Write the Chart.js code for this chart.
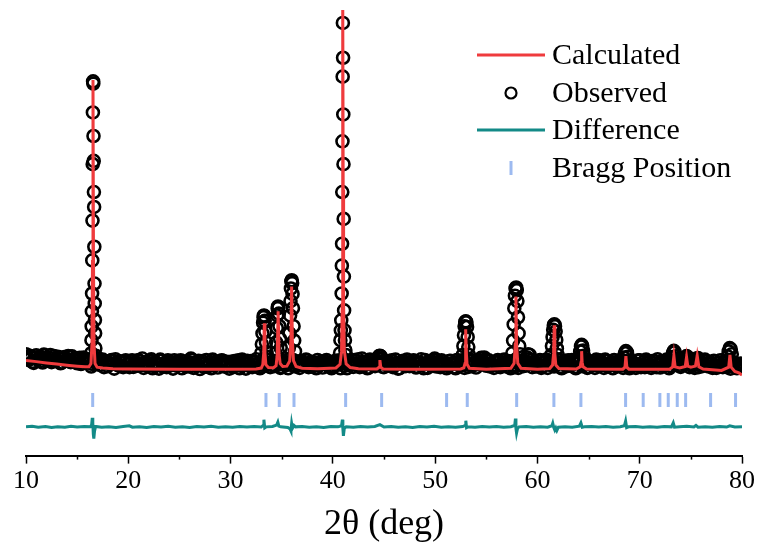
<!DOCTYPE html>
<html>
<head>
<meta charset="utf-8">
<title>Rietveld refinement</title>
<script src="https://cdn.jsdelivr.net/npm/chart.js@4.4.1/dist/chart.umd.min.js"></script>
<style>
  html, body { margin: 0; padding: 0; background: #fff; }
  #wrap { width: 764px; height: 552px; }
</style>
</head>
<body>
<div id="wrap"><canvas id="xrdChart" width="764" height="552"></canvas></div>
<script>
// 2theta scan, background part of the observed pattern (start 10, step 0.25 deg,
// second list is the in-between steps)
const scanStart = 10;
const scanStep = 0.25;
const obsBackground = [
  420, 260, 350, 180, 390, 300, 240, 410, 280, 330, 200, 370, 260, 310, 190, 340, 280, 220, 360, 250,
  170, 320, 230, 290, 200, 260, 150, 300, 210, 120, 270, 180, 90, 240, 160, 280, 110, 200, 60, 250,
  140, 230, 70, 190, 260, 120, 40, 210, 160, 280, 90, 180, 20, 240, 130, 60, 200, 150, 250, 100,
  170, 30, 220, 140, 80, 260, 190, 110, 10, 230, 150, 70, 200, 270, 120, 50, 180, 240, 90, 160,
  210, 60, 140, 250, 100, 190, 20, 170, 230, 120, 280, 150, 80, 210, 130, 260, 190, 90, 240, 140,
  60, 200, 150, 280, 120, 230, 170, 40, 210, 100, 250, 160, 80, 190, 260, 130, 50, 220, 140, 180,
  90, 240, 160, 30, 200, 260, 120, 180, 70, 230, 280, 150, 100, 210, 50, 170, 240, 130, 300, 190,
  60, 220, 140, 250, 110, 180, 30, 200, 160, 270, 90, 140, 230, 70, 190, 120, 260, 40, 170, 210,
  280, 130, 60, 220, 170, 90, 240, 150, 30, 200, 110, 260, 180, 70, 230, 140, 50, 210, 320, 160,
  100, 250, 170, 40, 190, 230, 120, 270, 80, 160, 220, 60, 190, 140, 250, 100, 330, 180, 60, 210,
  150, 260, 90, 200, 40, 170, 230, 120, 280, 70, 190, 140, 250, 100, 210, 30, 170, 240, 110, 190,
  60, 220, 150, 270, 90, 180, 40, 230, 130, 200, 260, 80, 170, 110, 240, 150, 30, 210, 160, 100,
  250, 130, 60, 190, 220, 100, 170, 280, 50, 200, 140, 240, 90, 180, 120, 260, 70, 200, 150, 230,
  110, 170, 250, 60, 190, 130, 220, 80, 160, 240, 40, 180, 120, 210, 60, 150, 90, 170, 30, 110,
  40
];
const obsBackgroundMid = [
  300, 380, 210, 330, 270, 360, 190, 320, 250, 400, 230, 290, 350, 170, 300, 240, 370, 200, 290, 310,
  240, 150, 330, 190, 270, 80, 230, 170, 290, 200, 60, 220, 150, 260, 20, 180, 230, 90, 200, 140,
  60, 250, 180, 100, 220, 300, 160, 90, 240, 30, 200, 130, 270, 80, 190, 250, 110, 20, 170, 230,
  250, 120, 80, 200, 300, 40, 150, 240, 180, 70, 260, 110, 30, 190, 220, 140, 250, 80, 210, 20,
  120, 230, 180, 30, 270, 140, 240, 90, 60, 200, 150, 30, 250, 100, 180, 60, 120, 230, 170, 40,
  240, 110, 30, 190, 260, 80, 120, 230, 150, 270, 60, 210, 130, 30, 100, 220, 170, 260, 80, 30,
  200, 120, 250, 180, 100, 30, 210, 140, 260, 110, 60, 200, 190, 30, 270, 120, 90, 230, 160, 70,
  230, 100, 180, 60, 270, 20, 150, 240, 90, 120, 200, 250, 50, 160, 280, 30, 170, 210, 110, 260,
  80, 200, 250, 120, 30, 230, 160, 60, 260, 110, 190, 40, 140, 280, 90, 200, 250, 130, 200, 270,
  240, 80, 120, 200, 260, 60, 190, 150, 230, 30, 110, 270, 40, 220, 90, 190, 280, 250, 140, 80,
  220, 40, 180, 270, 130, 240, 80, 200, 160, 30, 240, 90, 170, 260, 60, 200, 280, 90, 150, 40,
  190, 110, 40, 210, 250, 120, 270, 80, 170, 30, 140, 220, 260, 40, 190, 80, 230, 120, 40, 250,
  60, 210, 270, 110, 40, 240, 60, 150, 230, 100, 270, 30, 210, 160, 290, 100, 240, 130, 290, 60,
  210, 40, 130, 230, 90, 270, 150, 200, 40, 110, 170, 250, 60, 180, 230, 20, 200, 100, 60, 160
];

// observed points on the reflections
const obsPeakAngle = [
  16.38, 16.40, 16.42, 16.44, 16.46, 16.48, 16.50, 16.52, 16.54, 16.56, 16.58, 16.60, 16.62, 16.64, 16.66, 16.68, 16.70, 16.72, 16.74, 16.76, 16.78, 16.82,
  33.00, 33.06, 33.12, 33.18, 33.22, 33.26, 33.30, 33.34, 33.40, 33.46, 33.52, 33.60,
  34.40, 34.46, 34.52, 34.56, 34.60, 34.64, 34.68, 34.72, 34.78, 34.84, 34.90,
  35.70, 35.76, 35.82, 35.86, 35.90, 35.94, 35.98, 36.02, 36.06, 36.10, 36.16, 36.22, 36.30,
  40.70, 40.74, 40.78, 40.82, 40.86, 40.88, 40.90, 40.92, 40.94, 40.96, 40.98, 41.00, 41.02, 41.04, 41.06, 41.08, 41.10, 41.14, 41.18, 41.22, 41.28,
  42.85, 44.45, 44.52, 44.60, 44.68, 44.75, 49.95,
  52.70, 52.76, 52.82, 52.88, 52.94, 53.00, 53.06, 53.12, 53.18, 53.24, 53.30, 54.80,
  57.55, 57.62, 57.68, 57.74, 57.80, 57.86, 57.92, 57.98, 58.04, 58.10, 58.16, 58.22, 58.30, 59.10, 59.25,
  61.35, 61.42, 61.48, 61.54, 61.60, 61.66, 61.72, 61.78, 61.84, 61.90, 61.98,
  64.10, 64.18, 64.26, 64.32, 64.38, 64.46, 64.54,
  68.45, 68.55, 68.65, 68.75, 68.85,
  73.15, 73.25, 73.34, 73.43, 73.53, 74.45, 74.58, 74.70, 75.55, 75.70,
  78.60, 78.70, 78.80, 78.90, 79.00
];
const obsPeakCounts = [
  450, 811, 1198, 1613, 2111, 3032, 4140, 5710, 7149, 8015, 7952, 6493, 5801, 4934, 4519, 3412, 2388, 1834, 1373, 1005, 590, 380,
  450, 700, 1000, 1300, 1450, 1500, 1480, 1350, 1050, 750, 480, 350,
  450, 750, 1150, 1500, 1700, 1751, 1720, 1550, 1200, 850, 600,
  600, 1000, 1500, 1900, 2250, 2450, 2479, 2400, 2100, 1700, 1200, 800, 500,
  450, 811, 1087, 1364, 2111, 2886, 3495, 4934, 6346, 8145, 9640, 8671, 7094, 5710, 4187, 2582, 1641, 1087, 811, 534, 400,
  300, 300, 368, 380, 360, 280, 300,
  400, 650, 950, 1200, 1320, 1336, 1310, 1180, 900, 620, 400, 330,
  450, 800, 1250, 1700, 2050, 2250, 2277, 2200, 1900, 1450, 1000, 650, 420, 420, 400,
  400, 650, 900, 1100, 1230, 1253, 1200, 1050, 820, 580, 400,
  350, 500, 640, 680, 650, 520, 380,
  330, 450, 506, 470, 350,
  340, 460, 514, 480, 360, 320, 368, 340, 300, 312,
  360, 500, 590, 560, 420
];

// calculated profile
const calcAngle = [
  10, 11, 12, 13, 14, 15, 15.8, 16.15, 16.35, 16.45, 16.5, 16.55, 16.6, 16.65, 16.75, 16.95, 17.5, 18.5, 20, 25, 30,
  32.5, 33.0, 33.15, 33.24, 33.3, 33.36, 33.45, 33.7, 34.2, 34.45, 34.56, 34.65, 34.74, 34.85, 35.1,
  35.5, 35.78, 35.9, 35.97, 36.04, 36.15, 36.4, 37.0, 38.5,
  40.3, 40.7, 40.85, 40.92, 40.95, 40.98, 41.01, 41.05, 41.12, 41.3, 41.7, 42.5,
  44.3, 44.52, 44.6, 44.68, 44.9, 48, 52.5, 52.8, 52.92, 52.96, 53.01, 53.06, 53.12, 53.35, 55,
  57.4, 57.72, 57.84, 57.9, 57.96, 58.08, 58.4, 60, 61.2, 61.48, 61.58, 61.64, 61.7, 61.8, 62.1,
  63.8, 64.18, 64.27, 64.32, 64.37, 64.46, 64.8, 68.35, 68.56, 68.65, 68.74, 68.95,
  72.9, 73.22, 73.34, 73.46, 73.9, 74.45, 74.58, 74.7, 75.0, 75.45, 75.62, 75.78, 76.2,
  78.0, 78.7, 78.82, 78.94, 79.3, 79.7, 80
];
const calcCounts = [
  250, 215, 180, 146, 115, 88, 70, 70, 160, 700, 3000, 8050, 3000, 700, 160, 60, 35, 18, 8, 2, 0,
  8, 35, 130, 460, 1281, 460, 130, 50, 45, 100, 400, 1613, 420, 160, 80,
  90, 230, 820, 2305, 820, 240, 80, 30, 15,
  40, 140, 500, 1800, 5000, 10600, 5000, 1800, 520, 150, 50, 15,
  12, 60, 257, 60, 10, 0, 10, 40, 160, 420, 1115, 420, 140, 30, 5,
  30, 170, 700, 2028, 700, 170, 30, 5, 20, 120, 430, 1226, 430, 120, 25,
  10, 70, 200, 506, 200, 70, 10, 5, 60, 368, 60, 5,
  0, 70, 376, 70, 40, 80, 340, 90, 60, 90, 376, 70, 10,
  -30, 60, 403, 60, -60, -100, -160
];

// difference (observed - calculated)
const diffAngle = [
  10, 10.6, 11.2, 11.9, 12.5, 13.1, 13.8, 14.4, 15.0, 15.7, 16.3, 16.42, 16.48, 16.53, 16.58, 16.63, 16.7, 16.8,
  17.4, 18.1, 18.8, 19.5, 20.1, 20.4, 21.1, 21.8, 22.5, 23.2, 23.9, 24.6, 25.3, 26.0, 26.7, 27.4, 28.1, 28.8, 29.5,
  30.2, 30.9, 31.6, 32.3, 33.0, 33.18, 33.26, 33.34, 33.5, 34.1, 34.5, 34.62, 34.72, 34.9, 35.6, 35.82, 35.9, 35.97,
  36.05, 36.2, 36.35, 37.0, 37.7, 38.4, 39.1, 39.8, 40.5, 40.85, 40.93, 40.98, 41.03, 41.12, 41.3, 42.0, 42.7, 43.4,
  44.1, 44.6, 45.0, 45.7, 46.4, 47.1, 47.8, 48.5, 49.2, 49.9, 50.6, 51.3, 52.0, 52.7, 52.93, 53.0, 53.07, 53.2, 53.9,
  54.6, 55.3, 56.0, 56.7, 57.4, 57.78, 57.85, 57.9, 57.96, 58.05, 58.2, 58.9, 59.6, 60.3, 61.0, 61.42, 61.5, 61.6,
  61.7, 61.8, 61.9, 62.05, 62.7, 63.4, 64.1, 64.25, 64.38, 64.6, 65.3, 66.0, 66.7, 67.4, 68.1, 68.5, 68.62, 68.72,
  68.9, 69.6, 70.3, 71.0, 71.7, 72.4, 73.1, 73.28, 73.4, 73.9, 74.6, 75.3, 75.5, 75.7, 76.4, 77.1, 77.8, 78.5, 78.8,
  79.3, 80
];
const diffCounts = [
  0, 15, -10, 10, -15, 5, -10, 15, -5, 10, 5, 60, 250, 120, -200, -330, -120, 10,
  -10, 5, -15, 10, 30, -10, 5, -15, 10, -5, 15, -10, 5, -15, 10, -5, 15, -10, 5,
  -10, 10, -5, 10, -5, 40, 200, -30, 0, 10, 50, 130, 20, 0, -20, -60, -110, 90,
  -40, 40, 0, 10, -10, 5, -15, 10, 0, 30, 200, -50, -250, -40, 0, -10, 10, -5,
  10, 60, -5, 10, -10, 5, -15, 10, -5, 15, -10, 5, -10, 10, 40, 170, -20, 0, -10,
  10, -5, 10, -10, 5, 40, 230, -40, -170, -50, 0, 10, -10, 5, -10, 30, 100, -20,
  -90, -30, -100, -10, 5, -10, 20, 110, -10, 0, 10, -5, 10, -10, 5, 30, 160, -20,
  0, 10, -10, 5, -10, 10, 0, 110, -10, 5, 15, -5, 40, -10, 5, -10, 10, -5, 30,
  -5, 0
];

// Bragg reflection positions
const braggAngle = [
  16.52, 33.46, 34.76, 36.20, 41.25, 44.77, 51.12, 53.14, 57.97, 61.61,
  64.25, 68.62, 70.34, 71.97, 72.79, 73.67, 74.49, 76.93, 79.37
];

const xTicks = [10, 20, 30, 40, 50, 60, 70, 80];

// vertical placement of the marker row and the difference curve
const braggRow = -850;
const diffOffset = -1600;

const serif = '"Liberation Serif", "Times New Roman", serif';

const observed = obsBackground
  .map((c, i) => ({ x: scanStart + i * scanStep, y: c }))
  .concat(obsBackgroundMid.map((c, i) => ({ x: scanStart + (i + 0.5) * scanStep, y: c })))
  .concat(obsPeakAngle.map((a, i) => ({ x: a, y: obsPeakCounts[i] })));

// legend in the top right + minor ticks on the 2theta axis
const xrdDecor = {
  id: "xrdDecor",
  afterDraw(chart) {
    const ctx = chart.ctx;
    const xs = chart.scales.x;
    const bottom = chart.chartArea.bottom;
    ctx.save();
    ctx.strokeStyle = "#000";
    ctx.lineWidth = 1.5;
    for (let v = 15; v < 80; v += 10) {
      const px = Math.round(xs.getPixelForValue(v)) + 0.5;
      ctx.beginPath();
      ctx.moveTo(px, bottom);
      ctx.lineTo(px, bottom + 4);
      ctx.stroke();
    }

    const x0 = 477, x1 = 545, tx = 552;
    const rows = [55, 93, 130, 168];
    ctx.font = "30px " + serif;
    ctx.textBaseline = "middle";
    ctx.fillStyle = "#000";
    chart.data.datasets.forEach((ds, i) => {
      const y = rows[i];
      const cx = (x0 + x1) / 2;
      ctx.beginPath();
      if (ds.legendKind === "line") {
        ctx.strokeStyle = ds.borderColor;
        ctx.lineWidth = 3;
        ctx.moveTo(x0, y);
        ctx.lineTo(x1, y);
      } else if (ds.legendKind === "circle") {
        ctx.strokeStyle = "#000";
        ctx.lineWidth = 2.2;
        ctx.arc(cx, y, 5.5, 0, Math.PI * 2);
      } else {
        ctx.strokeStyle = ds.borderColor;
        ctx.lineWidth = 3;
        ctx.moveTo(cx, y - 7);
        ctx.lineTo(cx, y + 7);
      }
      ctx.stroke();
      ctx.fillText(ds.label, tx, y + 1);
    });
    ctx.restore();
  },
};

const ctx = document.getElementById("xrdChart").getContext("2d");
const xrdChart = new Chart(ctx, {
  type: "scatter",
  data: {
    datasets: [
      {
        label: "Calculated",
        legendKind: "line",
        data: calcAngle.map((a, i) => ({ x: a, y: calcCounts[i] })),
        showLine: true,
        borderColor: "#EF3B3D",
        borderWidth: 3,
        pointRadius: 0,
        tension: 0,
      },
      {
        label: "Observed",
        legendKind: "circle",
        data: observed,
        showLine: false,
        borderColor: "#000",
        backgroundColor: "rgba(0,0,0,0)",
        pointRadius: 6,
        pointBorderWidth: 2.6,
      },
      {
        label: "Difference",
        legendKind: "line",
        data: diffAngle.map((a, i) => ({ x: a, y: diffCounts[i] + diffOffset })),
        showLine: true,
        borderColor: "#138A87",
        borderWidth: 3,
        pointRadius: 0,
        tension: 0,
      },
      {
        label: "Bragg Position",
        legendKind: "tick",
        data: braggAngle.map((a) => ({ x: a, y: braggRow })),
        showLine: false,
        borderColor: "#9DBAF0",
        pointStyle: "line",
        rotation: 90,
        pointRadius: 7,
        pointBorderWidth: 3,
      },
    ],
  },
  options: {
    responsive: false,
    animation: false,
    devicePixelRatio: 1,
    layout: { padding: { left: 26, right: 22, top: 5, bottom: 6 } },
    plugins: {
      legend: { display: false },
      tooltip: { enabled: false },
    },
    scales: {
      x: {
        type: "linear",
        min: 10,
        max: 80,
        afterBuildTicks: (scale) => {
          scale.ticks = xTicks.map((v) => ({ value: v }));
        },
        ticks: {
          color: "#000",
          font: { family: serif, size: 26 },
          padding: 2,
          maxRotation: 0,
          autoSkip: false,
        },
        grid: {
          drawOnChartArea: false,
          drawTicks: true,
          tickLength: 8,
          tickColor: "#000",
          tickWidth: 1.5,
        },
        border: { display: true, color: "#000", width: 2 },
        title: {
          display: true,
          text: "2θ (deg)",
          color: "#000",
          font: { family: serif, size: 36 },
          padding: { top: 4, bottom: 0 },
        },
      },
      y: {
        display: false,
        min: -2400,
        max: 10000,
      },
    },
  },
  plugins: [xrdDecor],
});
</script>
</body>
</html>
